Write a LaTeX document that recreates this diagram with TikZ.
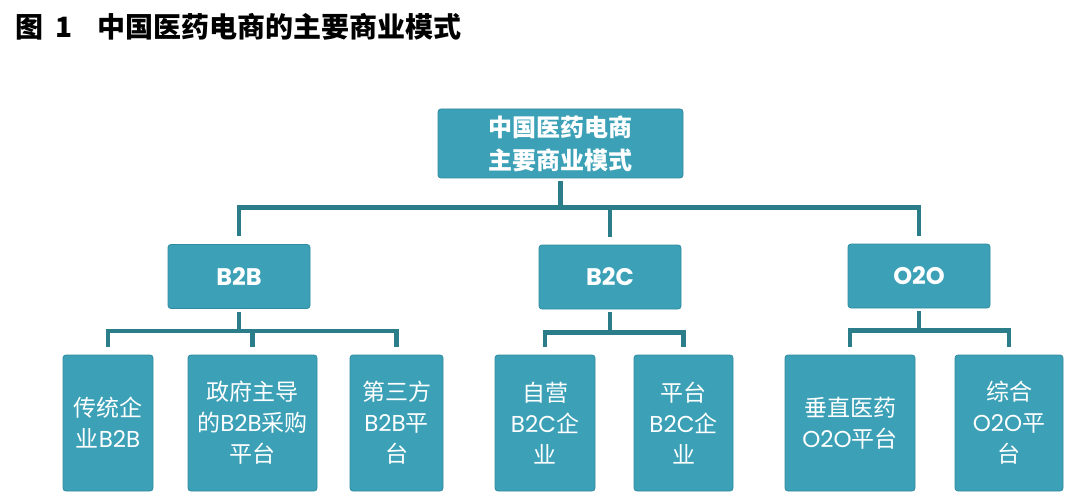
\documentclass[tikz,border=0pt]{standalone}
\usepackage{fontspec}
\newfontfamily\cjk{Noto Sans CJK SC}
\newfontfamily\lat{Poppins}
\definecolor{boxfill}{RGB}{60,161,183}
\definecolor{boxedge}{RGB}{47,138,158}
\definecolor{linkcol}{RGB}{44,125,138}
\tikzset{
  box/.style={draw=boxedge, fill=boxfill, rounded corners=3pt, line width=0.8pt,
    text=white, align=center, inner sep=0pt},
  rootbox/.style={box, minimum width=245pt, minimum height=69pt,
    font=\cjk\bfseries\fontsize{24}{33}\selectfont},
  catbox/.style={box, minimum width=142pt, minimum height=64pt,
    font=\lat\bfseries\fontsize{24}{28}\selectfont},
  leafbox/.style={box, minimum height=136pt,
    font=\cjk\fontsize{23}{31}\selectfont},
  link/.style={draw=linkcol, line width=4.8pt, shorten <=3pt, shorten >=8pt}
}
\begin{document}
\begin{tikzpicture}[x=1pt,y=-1pt]
  \useasboundingbox (0,0) rectangle (1080,500);
% caption
  \node[anchor=west, font=\cjk\bfseries\fontsize{28}{32}\selectfont] (fignum) at (12,27) {图\hspace{12pt}1};
  \node[anchor=west, font=\cjk\bfseries\fontsize{28}{32}\selectfont] (figtitle) at (94,27) {中国医药电商的主要商业模式};
% root
  \node[rootbox] (root) at (560.5,143.5) {中国医药电商\\主要商业模式};
% business models
  \node[catbox] (b2b) at (239,276.5) {B2B};
  \node[catbox] (b2c) at (610,277) {B2C};
  \node[catbox] (o2o) at (919,276) {O2O};
% B2B leaves
  \node[leafbox, minimum width=90pt] (tradb2b) at (108,423) {传统企\\业{\lat B2B}};
  \node[leafbox, minimum width=129pt] (govb2b) at (252.5,423) {政府主导\\的{\lat B2B}采购\\平台};
  \node[leafbox, minimum width=93pt] (thirdb2b) at (396.5,423) {第三方\\{\lat B2B}平\\台};
% B2C leaves
  \node[leafbox, minimum width=100pt] (selfb2c) at (545,423) {自营\\{\lat B2C}企\\业};
  \node[leafbox, minimum width=99pt] (platb2c) at (683.5,423) {平台\\{\lat B2C}企\\业};
% O2O leaves
  \node[leafbox, minimum width=130pt] (vertoto) at (850,423) {垂直医药\\{\lat O2O}平台};
  \node[leafbox, minimum width=108pt] (genoto) at (1009,423) {综合\\{\lat O2O}平\\台};
% tree links
  \draw[link] (root.south) -- ++(0,29) -| (b2b.north);
  \draw[link] (root.south) -- ++(0,29) -| (b2c.north);
  \draw[link] (root.south) -- ++(0,29) -| (o2o.north);
  \foreach \leaf in {tradb2b,govb2b,thirdb2b}
    \draw[link] (b2b.south) -- ++(0,22) -| (\leaf.north);
  \foreach \leaf in {selfb2c,platb2c}
    \draw[link] (b2c.south) -- ++(0,23) -| (\leaf.north);
  \foreach \leaf in {vertoto,genoto}
    \draw[link] (o2o.south) -- ++(0,22) -| (\leaf.north);
\end{tikzpicture}
\end{document}
